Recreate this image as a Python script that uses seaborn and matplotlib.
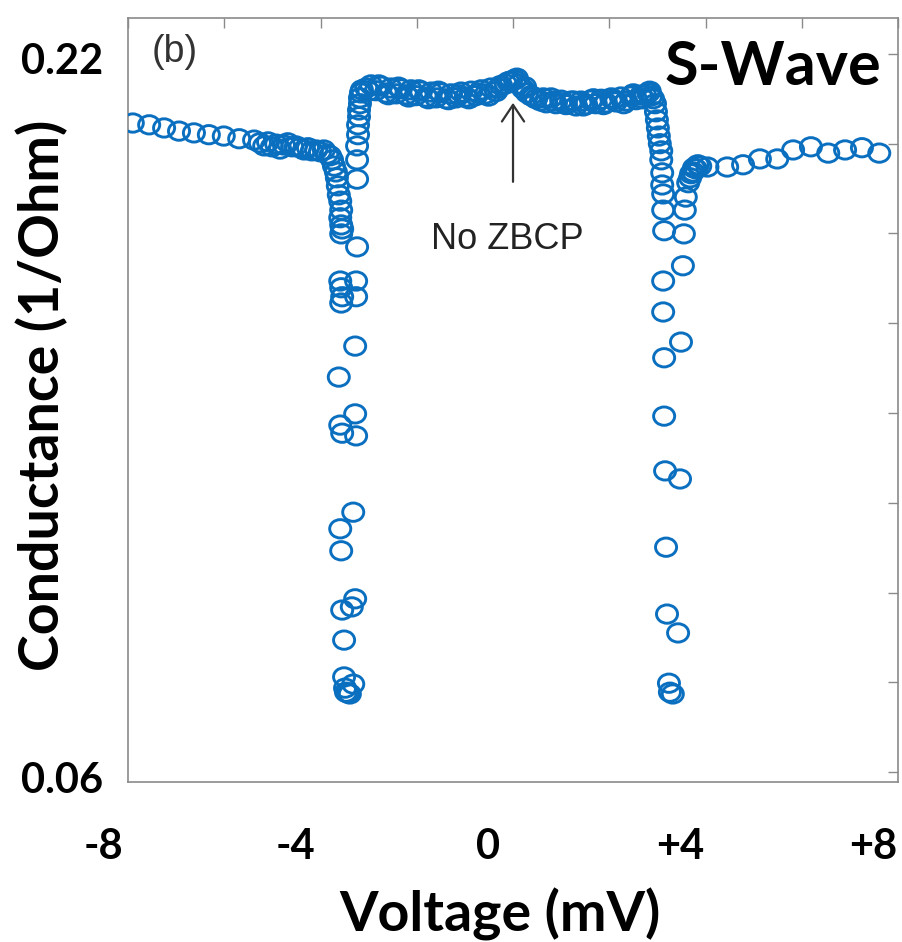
import numpy as np
import pandas as pd
import matplotlib
matplotlib.use("Agg")
import matplotlib.pyplot as plt
import matplotlib.transforms as mtransforms
from matplotlib.path import Path
from matplotlib.markers import MarkerStyle
import seaborn as sns

# ---------------- data ----------------
# left tail
v_left_tail = [-7.90, -7.56, -7.25, -6.94, -6.63, -6.32, -6.01, -5.69, -5.38]
g_left_tail = [0.2046, 0.2042, 0.2035, 0.2028, 0.2024, 0.2020, 0.2017, 0.2011, 0.2008]
# dense region before the left gap edge
v_left_edge = [-5.26, -5.17, -5.09, -5.01, -4.92, -4.84, -4.76, -4.68, -4.59, -4.51,
               -4.43, -4.34, -4.26, -4.18, -4.09, -4.01, -3.93, -3.86, -3.80, -3.76,
               -3.72, -3.68, -3.66]
g_left_edge = [0.2002, 0.1995, 0.2004, 0.1993, 0.1999, 0.1988, 0.1997, 0.2002, 0.1993, 0.1995,
               0.1991, 0.1986, 0.1991, 0.1984, 0.1986, 0.1982, 0.1986, 0.1977, 0.1973, 0.1964,
               0.1950, 0.1937, 0.1924]
# left dip, descending branch
v_left_down = [-3.64, -3.62, -3.59, -3.57, -3.59, -3.57, -3.55, -3.57, -3.59, -3.57,
               -3.55, -3.57, -3.62, -3.59, -3.55, -3.59, -3.57, -3.55, -3.51, -3.51,
               -3.49, -3.47, -3.43]
g_left_down = [0.1906, 0.1886, 0.1872, 0.1852, 0.1835, 0.1819, 0.1810, 0.1799, 0.1694, 0.1679,
               0.1659, 0.1645, 0.1480, 0.1373, 0.1355, 0.1142, 0.1093, 0.0961, 0.0894, 0.0812,
               0.0787, 0.0778, 0.0776]
# left dip, ascending branch
v_left_up = [-3.39, -3.32, -3.35, -3.28, -3.32, -3.26, -3.28, -3.28, -3.26, -3.26,
             -3.24, -3.24, -3.24, -3.24, -3.22, -3.22, -3.20, -3.20, -3.18, -3.18,
             -3.16, -3.14]
g_left_up = [0.0774, 0.0796, 0.0968, 0.0986, 0.1179, 0.1349, 0.1398, 0.1549, 0.1659, 0.1694,
             0.1770, 0.1921, 0.1964, 0.1995, 0.2020, 0.2042, 0.2060, 0.2075, 0.2089, 0.2102,
             0.2113, 0.2120]
# plateau inside the gap
v_plateau = [-3.05, -2.95, -2.85, -2.74, -2.64, -2.54, -2.43, -2.33, -2.22, -2.12,
             -2.02, -1.91, -1.81, -1.70, -1.60, -1.50, -1.39, -1.29, -1.18, -1.08,
             -0.98, -0.87, -0.77, -0.66, -0.56, -0.46, -0.35, -0.25, -0.15, -0.04,
             0.04, 0.12, 0.21, 0.29, 0.37, 0.48, 0.58, 0.69, 0.79, 0.89,
             1.00, 1.10, 1.21, 1.31, 1.41, 1.52, 1.62, 1.72, 1.83, 1.93,
             2.04, 2.14, 2.24, 2.35, 2.45, 2.56, 2.66, 2.74, 2.81, 2.87, 2.91]
g_plateau = [0.2124, 0.2131, 0.2118, 0.2128, 0.2113, 0.2124, 0.2111, 0.2122, 0.2109, 0.2120,
             0.2107, 0.2117, 0.2104, 0.2115, 0.2102, 0.2113, 0.2100, 0.2111, 0.2102, 0.2115,
             0.2104, 0.2117, 0.2107, 0.2120, 0.2111, 0.2124, 0.2116, 0.2130, 0.2133, 0.2140,
             0.2142, 0.2133, 0.2122, 0.2113, 0.2107, 0.2100, 0.2095, 0.2091, 0.2102, 0.2089,
             0.2097, 0.2087, 0.2095, 0.2084, 0.2095, 0.2087, 0.2097, 0.2089, 0.2099, 0.2091,
             0.2102, 0.2093, 0.2104, 0.2095, 0.2106, 0.2098, 0.2108, 0.2109, 0.2113, 0.2106, 0.2100]
# second pass of plateau points (the band is two circles thick)
v_plateau2 = [-3.00, -2.79, -2.59, -2.38, -2.17, -1.96, -1.76, -1.55, -1.34, -1.13,
              -0.92, -0.72, -0.51, -0.30, -0.10, 0.08, 0.25, 0.43, 0.63, 0.84,
              1.05, 1.26, 1.46, 1.67, 1.88, 2.09, 2.30, 2.50, 2.70, 2.84]
g_plateau2 = [0.2117, 0.2131, 0.2109, 0.2126, 0.2104, 0.2120, 0.2100, 0.2117, 0.2098, 0.2109,
              0.2100, 0.2113, 0.2106, 0.2124, 0.2138, 0.2146, 0.2127, 0.2104, 0.2102, 0.2095,
              0.2091, 0.2095, 0.2084, 0.2100, 0.2087, 0.2098, 0.2089, 0.2111, 0.2100, 0.2117]
# right dip, descending branch
v_right_down = [2.95, 2.97, 2.99, 3.01, 3.03, 3.05, 3.08, 3.08, 3.10, 3.10,
                3.12, 3.12, 3.14, 3.12, 3.12, 3.14, 3.14, 3.16, 3.18, 3.20,
                3.24, 3.26]
g_right_down = [0.2089, 0.2071, 0.2053, 0.2035, 0.2017, 0.2000, 0.1984, 0.1964, 0.1935, 0.1908,
                0.1888, 0.1852, 0.1806, 0.1694, 0.1625, 0.1523, 0.1393, 0.1271, 0.1101, 0.0952,
                0.0798, 0.0778]
# right dip, ascending branch
v_right_up = [3.32, 3.43, 3.47, 3.49, 3.53, 3.55, 3.57, 3.59, 3.64, 3.68,
              3.70, 3.74, 3.76, 3.80, 3.84, 3.89]
g_right_up = [0.0774, 0.0910, 0.1253, 0.1558, 0.1728, 0.1799, 0.1852, 0.1881, 0.1913, 0.1924,
              0.1933, 0.1937, 0.1946, 0.1944, 0.1953, 0.1950]
# right tail
v_right_tail = [4.04, 4.45, 4.78, 5.13, 5.49, 5.82, 6.19, 6.55, 6.90, 7.25, 7.61]
g_right_tail = [0.1948, 0.1948, 0.1953, 0.1966, 0.1966, 0.1986, 0.1993, 0.1979, 0.1986, 0.1991, 0.1979]

voltage = (v_left_tail + v_left_edge + v_left_down + v_left_up + v_plateau + v_plateau2
           + v_right_down + v_right_up + v_right_tail)
conductance = (g_left_tail + g_left_edge + g_left_down + g_left_up + g_plateau + g_plateau2
               + g_right_down + g_right_up + g_right_tail)
df = pd.DataFrame({"Voltage": voltage, "Conductance": conductance})

x_major = [-8, -4, 0, 4, 8]
x_major_labels = ["-8", "-4", "0", "+4", "+8"]
x_minor = [-6, -2, 2, 6]
y_labelled = [0.06, 0.22]
y_labelled_text = ["0.06", "0.22"]
y_minor = [0.08, 0.10, 0.12, 0.14, 0.16, 0.18, 0.20]

# ---------------- style ----------------
sns.set_style("white")
plt.rcParams["font.family"] = ["Lato", "DejaVu Sans"]
plt.rcParams["text.color"] = "black"
plt.rcParams["axes.labelcolor"] = "black"
plt.rcParams["xtick.labelcolor"] = "black"
plt.rcParams["ytick.labelcolor"] = "black"

BLUE = "#0b6fc0"
SPINE = "#8a8a8a"

fig = plt.figure(figsize=(9.02, 9.42), dpi=100)
ax = fig.add_axes([0.1419, 0.1699, 0.8537, 0.8110])

# slightly wide open-circle marker
circ = Path.unit_circle()
ell = circ.transformed(mtransforms.Affine2D().scale(1.15, 1.0))
marker = MarkerStyle(ell)

sns.scatterplot(data=df, x="Voltage", y="Conductance", ax=ax, marker=marker,
                s=230, facecolors="none", edgecolor=BLUE, linewidth=2.1,
                legend=False, zorder=3)

ax.set_xlim(-8, 8)
ax.set_ylim(0.0578, 0.228)

ax.set_xticks(x_major)
ax.set_xticklabels(x_major_labels)
ax.set_xticks(x_minor, minor=True)
ax.set_yticks(y_labelled)
ax.set_yticklabels(y_labelled_text)
ax.set_yticks(y_minor, minor=True)

for s in ax.spines.values():
    s.set_color(SPINE)
    s.set_linewidth(1.2)

ax.tick_params(axis="both", which="both", direction="in", length=7, width=1.0,
               color=SPINE, top=True, right=True)
ax.tick_params(axis="x", which="major", labelsize=30, pad=33, labelcolor="black")
ax.tick_params(axis="y", which="major", labelsize=30, pad=18, labelcolor="black")
for lab in ax.get_xticklabels() + ax.get_yticklabels():
    lab.set_fontweight("bold")

# shift x tick labels left like the reference
offset = mtransforms.ScaledTranslation(-0.25, 0, fig.dpi_scale_trans)
for lab in ax.get_xticklabels():
    lab.set_transform(lab.get_transform() + offset)
offy = mtransforms.ScaledTranslation(0, -0.05, fig.dpi_scale_trans)
for lab in ax.get_yticklabels():
    lab.set_transform(lab.get_transform() + offy)

ax.set_xlabel("Voltage (mV)", fontsize=40, fontweight="bold", color="black")
ax.set_ylabel("Conductance (1/Ohm)", fontsize=40, fontweight="bold", color="black")
ax.xaxis.set_label_coords(0.483, -0.139)
ax.yaxis.set_label_coords(-0.078, 0.5065)

ax.text(-7.04, 0.2204, "(b)", fontsize=27, color="#333333", ha="center", va="center",
        family=["Liberation Sans", "DejaVu Sans"])
ax.text(-0.12, 0.1786, "No ZBCP", fontsize=26, color="#222222", ha="center", va="center",
        family=["Liberation Sans", "DejaVu Sans"])
ax.annotate("", xy=(0, 0.2091), xytext=(0, 0.1915),
            arrowprops=dict(arrowstyle="->,head_length=1.2,head_width=0.8",
                            lw=1.6, color="#333333", shrinkA=0, shrinkB=0))
ax.text(5.40, 0.2171, "S-Wave", fontsize=44, fontweight="bold", color="black",
        ha="center", va="center")

fig.savefig("out.png", dpi=100)
